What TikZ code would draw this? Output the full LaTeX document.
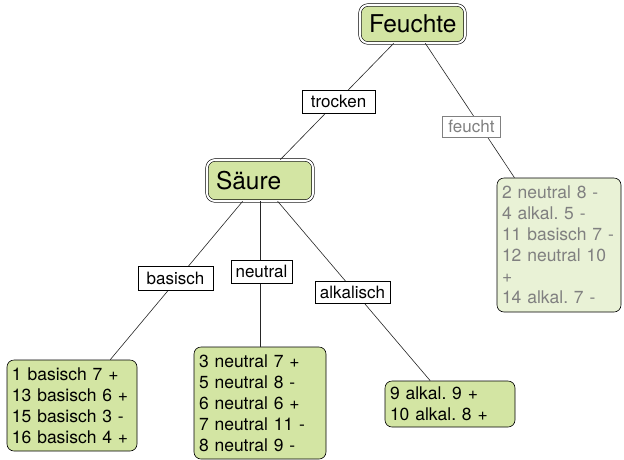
\documentclass[tikz,border=0pt]{standalone}
\usepackage{fontspec}
\setmainfont{TeX Gyre Heros}
\frenchspacing
\definecolor{leafgreen}{RGB}{211,229,163}
\definecolor{leaflight}{RGB}{233,242,214}
\definecolor{graytext}{RGB}{128,128,128}
\begin{document}
\begin{tikzpicture}[x=1pt,y=-1pt,
  rootbox/.style={draw=black,line width=0.6pt,double=white,double distance=2pt,
    fill=leafgreen,rounded corners=8pt,inner xsep=9pt,inner ysep=0pt,align=left,
    font=\fontsize{24.5}{27}\selectfont},
  edgelabel/.style={draw=black,line width=0.6pt,fill=white,inner sep=0pt,
    minimum height=23pt,font=\fontsize{17}{19}\selectfont},
  leafbox/.style={draw=black,line width=0.6pt,fill=leafgreen,rounded corners=7pt,
    inner xsep=5pt,inner ysep=0pt,align=left,
    font=\fontsize{17.5}{21}\selectfont},
  edge/.style={draw=black!85,line width=0.6pt}
]
\useasboundingbox (0,0) rectangle (624,459);
\fill[white] (0,0) rectangle (624,459);

% nodes
\node[rootbox,text width=87pt,minimum height=38pt] (feuchte) at (412.5,24) {Feuchte};
\node[rootbox,text width=88pt,minimum height=41pt] (saeure) at (260,180.5) {Säure};

\node[leafbox,fill=leaflight,text=graytext,text width=114pt,minimum height=134pt] (lfeucht) at (559,245)
  {2 neutral 8 -\\4 alkal. 5 -\\11 basisch 7 -\\12 neutral 10\\+\\14 alkal. 7 -};
\node[leafbox,text width=120pt,minimum height=91pt] (lbasisch) at (72,405.5)
  {1 basisch 7 +\\13 basisch 6 +\\15 basisch 3 -\\16 basisch 4 +};
\node[leafbox,text width=122pt,minimum height=112pt] (lneutral) at (260,403)
  {3 neutral 7 +\\5 neutral 8 -\\6 neutral 6 +\\7 neutral 11 -\\8 neutral 9 -};
\node[leafbox,text width=120pt,minimum height=46pt] (lalkal) at (450,404)
  {9 alkal. 9 +\\10 alkal. 8 +};

% connectors
\draw[edge] (feuchte) -- (saeure);
\draw[edge] (feuchte) -- (lfeucht);
\draw[edge] (saeure) -- (lbasisch);
\draw[edge] (saeure) -- (lneutral);
\draw[edge] (saeure) -- (lalkal);

% edge labels
\node[edgelabel,minimum width=73pt] (ltrocken) at (338.5,101.5) {trocken};
\node[edgelabel,draw=graytext,text=graytext,minimum width=58pt,minimum height=21pt] (lbfeucht) at (471.5,126.5) {feucht};
\node[edgelabel,minimum width=75pt,minimum height=24pt] (lbbasisch) at (175.5,278) {basisch};
\node[edgelabel,minimum width=61pt] (lbneutral) at (261.5,271.5) {neutral};
\node[edgelabel,minimum width=75pt,minimum height=22pt] (lbalkal) at (352.5,292) {alkalisch};
\end{tikzpicture}
\end{document}
